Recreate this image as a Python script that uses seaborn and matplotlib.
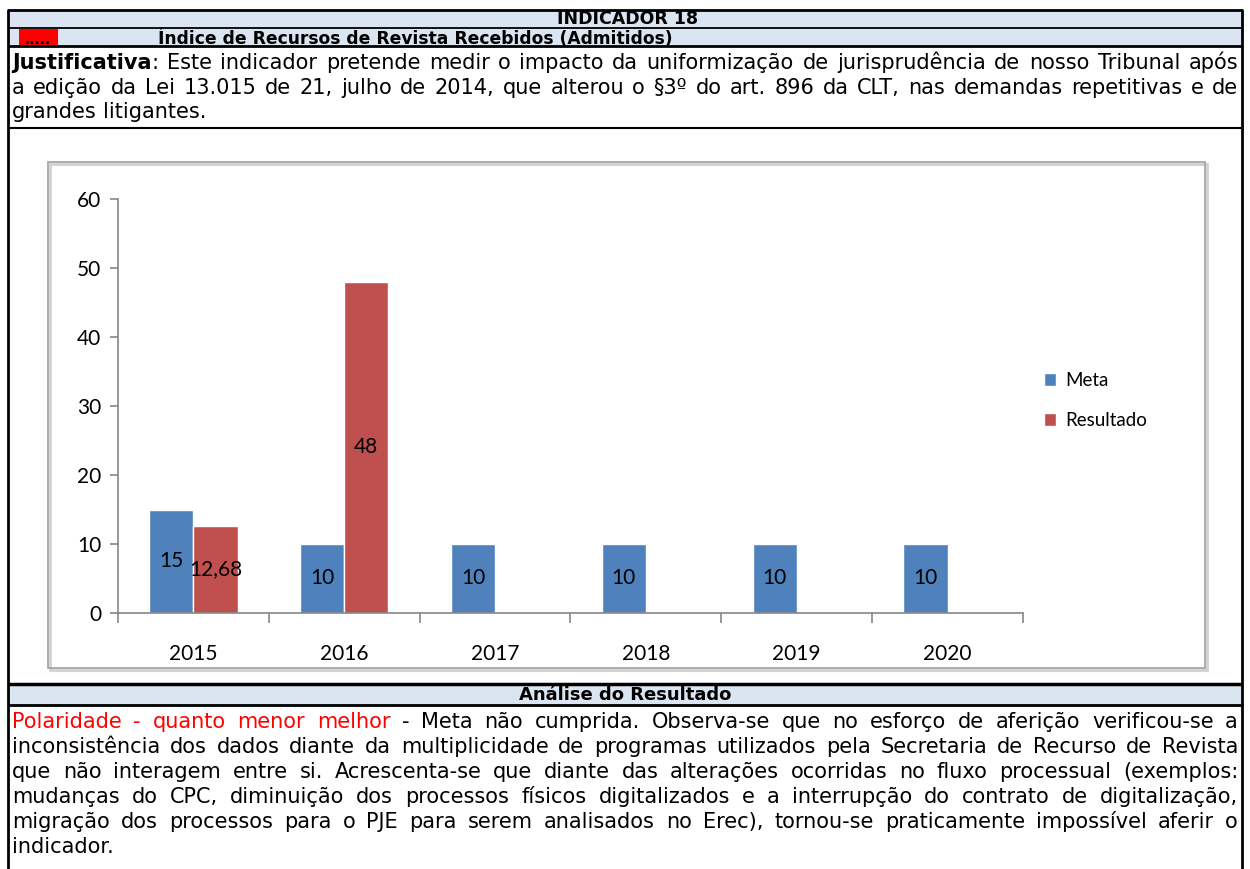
import numpy as np
import pandas as pd
import seaborn as sns
import matplotlib.pyplot as plt
from matplotlib.patches import Rectangle

# dados do grafico
anos = ['2015', '2016', '2017', '2018', '2019', '2020']
meta = [15, 10, 10, 10, 10, 10]
resultado = [12.68, 48, np.nan, np.nan, np.nan, np.nan]
series = ['Meta', 'Resultado']
cores = ['#4f81bd', '#c0504d']

titulo = 'INDICADOR 18'
subtitulo = 'Índice de Recursos de Revista Recebidos (Admitidos)'
cab_analise = 'Análise do Resultado'

just_linhas = [
    'Este indicador pretende medir o impacto da uniformização de jurisprudência de nosso Tribunal após',
    'a edição da Lei 13.015 de 21, julho de 2014, que alterou o §3º do art. 896 da CLT, nas demandas repetitivas e de',
    'grandes litigantes.',
]
analise_linhas = [
    '- Meta não cumprida. Observa-se que no esforço de aferição verificou-se a',
    'inconsistência dos dados diante da multiplicidade de programas utilizados pela Secretaria de Recurso de Revista',
    'que não interagem entre si. Acrescenta-se que diante das alterações ocorridas no fluxo processual (exemplos:',
    'mudanças do CPC, diminuição dos processos físicos digitalizados e a interrupção do contrato de digitalização,',
    'migração dos processos para o PJE para serem analisados no Erec), tornou-se praticamente impossível aferir o',
    'indicador.',
]
polaridade = 'Polaridade - quanto menor melhor'

df = pd.DataFrame({'ano': anos * 2,
                   'serie': ['Meta'] * len(anos) + ['Resultado'] * len(anos),
                   'valor': meta + resultado})

sns.set_theme(style='white')
plt.rcParams['font.family'] = ['DejaVu Sans']
plt.rcParams['text.color'] = 'black'
plt.rcParams['xtick.color'] = 'black'
plt.rcParams['ytick.color'] = 'black'

W, H = 1250, 869
fig = plt.figure(figsize=(W / 100, H / 100), dpi=100)

# eixo de fundo em pixels para a tabela
bg = fig.add_axes([0, 0, 1, 1])
bg.set_xlim(0, W)
bg.set_ylim(H, 0)
bg.axis('off')

azul = '#dbe5f1'
xl, xr = 8, 1242
bg.add_patch(Rectangle((xl, 10), xr - xl, 36, color=azul, lw=0))
bg.add_patch(Rectangle((xl, 684), xr - xl, 21, color=azul, lw=0))
bg.add_patch(Rectangle((19, 29), 39, 17, color='#ff0000', lw=0))
for y, lw in [(10, 2), (27.5, 1.3), (46, 2), (128, 1.5), (684, 2.5), (705, 2)]:
    bg.plot([xl, xr], [y, y], color='black', lw=lw, solid_capstyle='butt', zorder=1)
bg.plot([xl, xl], [10, H], color='black', lw=2, zorder=1)
bg.plot([xr, xr], [10, H], color='black', lw=2, zorder=1)

# caixa do grafico
bg.add_patch(Rectangle((50, 164), 1157, 506, fill=False, ec='#d0d0d0', lw=2))
bg.add_patch(Rectangle((48, 162), 1157, 506, fill=False, ec='#a0a0a0', lw=1.2))

bg.text(628, 24, titulo, ha='center', va='baseline', fontsize=12.5, weight='bold')
bg.text(38, 44, '.....', ha='center', va='baseline', fontsize=10, weight='bold')
bg.text(158, 44.5, subtitulo, ha='left', va='baseline', fontsize=12.3, weight='bold')
bg.text(W / 2, 700.5, cab_analise, ha='center', va='baseline', fontsize=13, weight='bold')

renderer = fig.canvas.get_renderer()
TAM = 15


def linha(tokens, y, x0=12, x1=1238, justificar=True):
    # tokens: lista de palavras, cada uma lista de (texto, peso, cor)
    objs = []
    larg = []
    for tok in tokens:
        partes = []
        for txt, peso, cor in tok:
            t = bg.text(0, y, txt, fontsize=TAM, weight=peso, color=cor, va='baseline', ha='left')
            partes.append((t, t.get_window_extent(renderer).width))
        objs.append(partes)
        larg.append(sum(w for _, w in partes))
    esp = 0.32 * TAM * 1.389
    if justificar and len(tokens) > 1:
        esp = (x1 - x0 - sum(larg)) / (len(tokens) - 1)
    x = x0
    for partes, w in zip(objs, larg):
        xx = x
        for t, wt in partes:
            t.set_x(xx)
            xx += wt
        x += w + esp


def palavras(s, peso='normal', cor='black'):
    return [[(p, peso, cor)] for p in s.split()]


base_just = [69, 93.5, 118]
linhas_j = [[[('Justificativa', 'bold', 'black'), (':', 'normal', 'black')]] + palavras(just_linhas[0])]
linhas_j += [palavras(s) for s in just_linhas[1:]]
for i, (toks, y) in enumerate(zip(linhas_j, base_just)):
    linha(toks, y, justificar=i < len(linhas_j) - 1)

base_an = [728, 753, 778, 803, 828, 853]
linhas_a = [palavras(polaridade, cor='#ff0000') + palavras(analise_linhas[0])]
linhas_a += [palavras(s) for s in analise_linhas[1:]]
for i, (toks, y) in enumerate(zip(linhas_a, base_an)):
    linha(toks, y, justificar=i < len(linhas_a) - 1)

# grafico de barras
ax = fig.add_axes([118 / W, 1 - 613 / H, 905 / W, 414 / H])
sns.barplot(data=df, x='ano', y='valor', hue='serie', palette=cores,
            width=0.585, saturation=1, ax=ax, legend=True)
ax.set_ylim(0, 60)
ax.set_xlim(-0.5, len(anos) - 0.5)
ax.set_xlabel('')
ax.set_ylabel('')
ax.set_yticks(range(0, 61, 10))

fonte_graf = ['Lato', 'DejaVu Sans']
for c in ax.containers:
    rot = []
    for v in c.datavalues:
        if np.isnan(v):
            rot.append('')
        elif float(v).is_integer():
            rot.append('%d' % v)
        else:
            rot.append(('%.2f' % v).replace('.', ','))
    ax.bar_label(c, labels=rot, label_type='center', fontsize=15, family=fonte_graf)

cinza = '#868686'
for s in ['top', 'right']:
    ax.spines[s].set_visible(False)
for s in ['left', 'bottom']:
    ax.spines[s].set_color(cinza)
    ax.spines[s].set_linewidth(1.2)
ax.set_xticks(np.arange(-0.5, len(anos)), minor=True)
ax.tick_params(axis='x', which='major', length=0, pad=22)
ax.tick_params(axis='x', which='minor', length=7, color=cinza, width=1.2, direction='out', bottom=True)
ax.tick_params(axis='y', length=6, color=cinza, width=1.2, direction='out', left=True, pad=6)
for lab in ax.get_xticklabels() + ax.get_yticklabels():
    lab.set_fontsize(15)
    lab.set_family(fonte_graf)

leg = ax.legend(loc='center left', bbox_to_anchor=(1.023, 0.513), frameon=False,
                handlelength=0.65, handleheight=0.65, handletextpad=0.5,
                labelspacing=1.25, borderpad=0, borderaxespad=0,
                prop={'family': fonte_graf, 'size': 13.5})

fig.savefig('out.png', dpi=100)
